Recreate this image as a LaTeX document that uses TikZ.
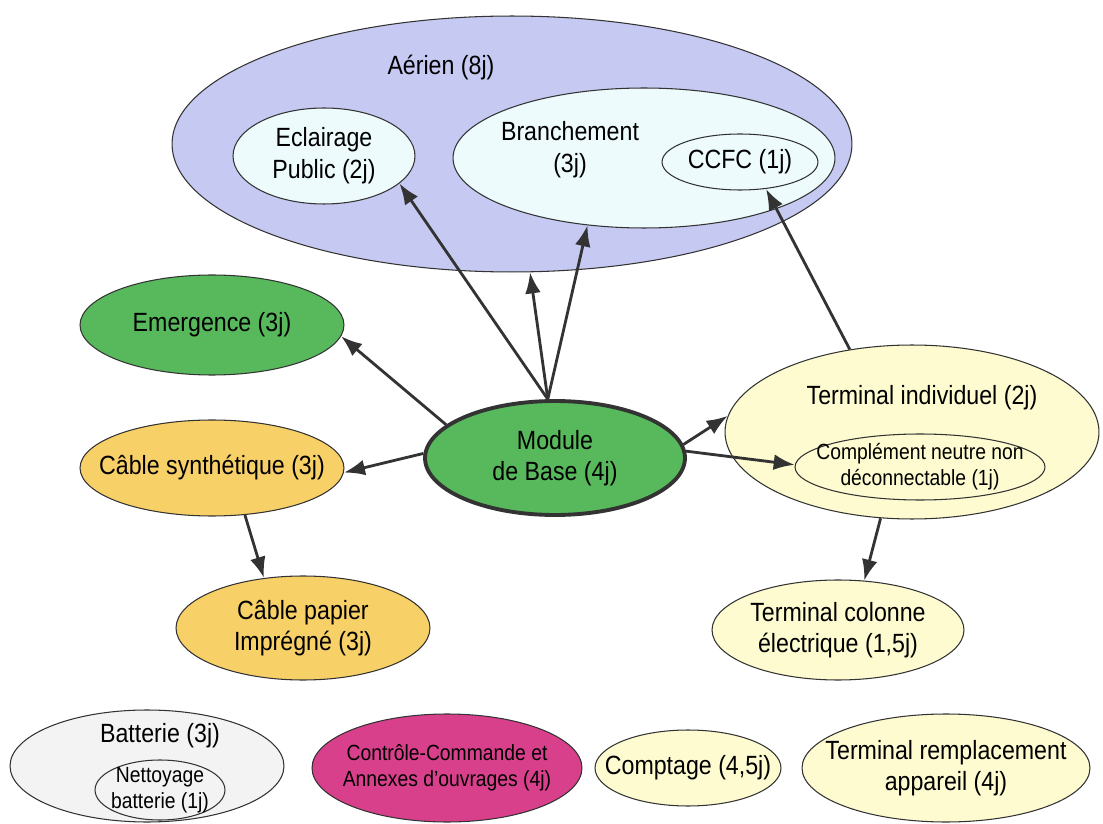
\documentclass[tikz,border=0pt]{standalone}
\usepackage{fontspec}
\setmainfont[FakeStretch=0.88]{Liberation Sans}
\usetikzlibrary{shapes.geometric,arrows.meta}

\definecolor{lavande}{RGB}{198,201,241}
\definecolor{ciel}{RGB}{238,251,253}
\definecolor{vert}{RGB}{88,184,92}
\definecolor{orange}{RGB}{248,208,104}
\definecolor{creme}{RGB}{253,251,207}
\definecolor{gris}{RGB}{243,243,243}
\definecolor{magenta}{RGB}{216,64,140}
\definecolor{trait}{RGB}{51,51,51}

\begin{document}
\begin{tikzpicture}[%
    x=0.02cm,
    y=-0.02cm,
    fleche/.style={%
      -{Latex[length=12pt,width=9pt]},
      line width=1.6pt,
      draw=trait
    },
    bulle/.style={%
      ellipse,
      draw=trait,
      line width=0.6pt,
      inner xsep=-30pt,
      inner ysep=-12pt,
      align=center,
      font=\fontsize{15}{18}\selectfont
    },
    petit/.style={%
      font=\fontsize{12.5}{15}\selectfont
    }
  ]
    \useasboundingbox (0,0) rectangle (1103,824);

    % groupe aerien
    \node[bulle,fill=lavande,minimum width=13.6cm,minimum height=5.12cm] (aerien) at (512,144) {};
    \node[font=\fontsize{15}{18}\selectfont] (aerientxt) at (441,68) {Aérien (8j)};
    \node[bulle,fill=ciel,minimum width=3.64cm,minimum height=1.92cm] (eclairage) at (324,156) {Eclairage\\Public (2j)};
    \node[bulle,fill=ciel,minimum width=7.64cm,minimum height=2.8cm] (branchement) at (644,158) {};
    \node[font=\fontsize{15}{18}\selectfont,align=center] (branchtxt) at (570,150) {Branchement\\(3j)};
    \node[bulle,fill=ciel,minimum width=3.12cm,minimum height=1.12cm] (ccfc) at (740,162) {CCFC (1j)};

    % centre et voisins
    \node[bulle,fill=vert,minimum width=5.28cm,minimum height=2cm] (emergence) at (212,325) {Emergence (3j)};
    \node[bulle,fill=vert,line width=2.2pt,minimum width=5.2cm,minimum height=2.28cm] (module) at (555,458) {Module\\de Base (4j)};
    \node[bulle,fill=orange,minimum width=5.28cm,minimum height=1.92cm] (synth) at (212,468) {Câble synthétique (3j)};
    \node[bulle,fill=orange,minimum width=5.08cm,minimum height=2.08cm] (papier) at (303,628) {Câble papier\\Imprégné (3j)};
    \node[bulle,fill=creme,minimum width=7.48cm,minimum height=3.48cm] (termind) at (912,432) {};
    \node[font=\fontsize{15}{18}\selectfont] (termindtxt) at (922,398) {Terminal individuel (2j)};
    \node[bulle,petit,fill=creme,minimum width=5cm,minimum height=1.32cm] (neutre) at (920,467) {Complément neutre non\\déconnectable (1j)};
    \node[bulle,fill=creme,minimum width=5.04cm,minimum height=2cm] (colonne) at (838,630) {Terminal colonne\\électrique (1,5j)};

    % ligne du bas
    \node[bulle,fill=gris,minimum width=5.48cm,minimum height=2.24cm] (batterie) at (147,766) {};
    \node[font=\fontsize{15}{18}\selectfont] (batterietxt) at (160,736) {Batterie (3j)};
    \node[bulle,petit,fill=gris,minimum width=2.6cm,minimum height=1.2cm] (nettoyage) at (160,790) {Nettoyage\\batterie (1j)};
    \node[bulle,petit,fill=magenta,minimum width=5.4cm,minimum height=2.16cm] (controle) at (447,768) {Contrôle-Commande et\\Annexes d’ouvrages (4j)};
    \node[bulle,fill=creme,minimum width=3.72cm,minimum height=1.52cm] (comptage) at (688,768) {Comptage (4,5j)};
    \node[bulle,fill=creme,minimum width=5.76cm,minimum height=2.16cm] (remplacement) at (946,768) {Terminal remplacement\\appareil (4j)};

    \path (module.97)  edge[fleche] (eclairage.-20)
          (module.97)  edge[fleche] (aerien.-82)
          (module.97)  edge[fleche] (branchement.-130)
          (module.163) edge[fleche] (emergence.-5)
          (module.178) edge[fleche] (synth.-2)
          (module.6)   edge[fleche] (termind.175)
          (module.3)   edge[fleche] (neutre.179)
          (synth.-55)  edge[fleche] (papier.128)
          (termind.-110) edge[fleche] (colonne.62)
          (termind.127)  edge[fleche] (ccfc.-46);
  \end{tikzpicture}
\end{document}
